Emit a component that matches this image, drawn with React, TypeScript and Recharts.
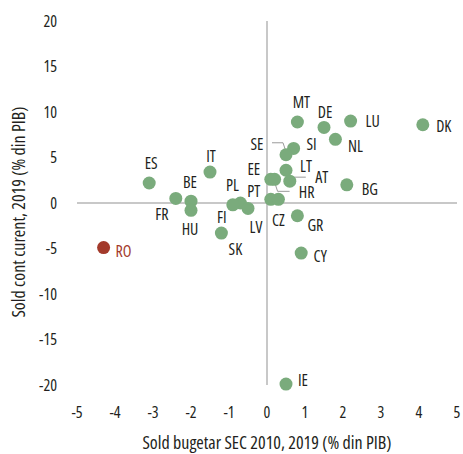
import React from "react";
import {
    ScatterChart, Scatter, XAxis, YAxis, ZAxis, ReferenceLine,
} from "recharts";

// country codes, budget balance (x) and current account (y), % of GDP, 2019
const countries = ["DK", "LU", "MT", "DE", "NL", "SI", "SE", "LT", "AT", "EE", "HR", "BG", "PT", "CZ", "GR", "CY", "IE", "ES", "IT", "BE", "FR", "HU", "PL", "FI", "LV", "SK", "RO"];
const budget = [4.1, 2.2, 0.8, 1.5, 1.8, 0.7, 0.5, 0.5, 0.6, 0.1, 0.2, 2.1, 0.1, 0.3, 0.8, 0.9, 0.5, -3.1, -1.5, -2.0, -2.4, -2.0, -0.7, -0.9, -0.5, -1.2, -4.3];
const currentAccount = [8.6, 9.0, 8.9, 8.3, 7.0, 6.0, 5.3, 3.6, 2.4, 2.6, 2.6, 2.0, 0.4, 0.4, -1.4, -5.5, -19.9, 2.2, 3.4, 0.2, 0.5, -0.8, 0.0, -0.2, -0.6, -3.3, -4.9];
const xTicks = [-5, -4, -3, -2, -1, 0, 1, 2, 3, 4, 5];
const yTicks = [-20, -15, -10, -5, 0, 5, 10, 15, 20];

const highlight = "RO";

// label placement (offset of the label centre from the dot), plus a few leader lines
const labelPos: Record<string, [number, number]> = {
    DK: [21, 1], LU: [22, 0], MT: [4, -20], DE: [1, -15], NL: [20, 7], SI: [18, -4],
    SE: [-29, -11], LT: [20, -4], AT: [32, -4], EE: [-17, -10], HR: [32, 13], BG: [23, 4],
    PT: [-17, -8], CZ: [0, 21], GR: [18, 9], CY: [19, 3], IE: [17, -4], ES: [2, -20],
    IT: [1, -16], BE: [-1, -19], FR: [-14, 16], HU: [-1, 19], PL: [-8, -18], FI: [-11, 12],
    LV: [8, 19], SK: [14, 16], RO: [20, 3],
};
const leaders: Record<string, number[][]> = {
    SE: [[-14, -12], [-3, -12], [0, -3]],
    AT: [[2, -2], [5, -4], [16, -4]],
    HR: [[0, 3], [3, 12], [15, 12]],
};

const data = countries.map((c, i) => ({ code: c, x: budget[i], y: currentAccount[i] }));

const FONT = "'Open Sans', 'DejaVu Sans Condensed', sans-serif";
const NARROW = { fontStretch: "condensed" } as React.CSSProperties;
const TEXT = "#231f20";
const GREEN = "#7aab7c";
const RED = "#a33a2b";
const GRID = "#c8c8c8";

function Dot(props: any) {
    const { cx, cy, payload } = props;
    const isHi = payload.code === highlight;
    const [dx, dy] = labelPos[payload.code] || [15, 0];
    const lead = leaders[payload.code];
    return (
        <g>
            {lead && (
                <polyline
                    points={lead.map(([a, b]) => `${cx + a},${cy + b}`).join(" ")}
                    fill="none"
                    stroke="#9a9a9a"
                    strokeWidth={1}
                />
            )}
            <circle cx={cx} cy={cy} r={6.5} fill={isHi ? RED : GREEN} />
            <text
                x={cx + dx}
                y={cy + dy}
                textAnchor="middle"
                dominantBaseline="central"
                fontFamily={FONT}
                fontSize={16}
                style={NARROW}
                fill={isHi ? RED : TEXT}
            >
                {payload.code}
            </text>
        </g>
    );
}

export default function App() {
    const tick = { fill: TEXT, fontSize: 16, fontFamily: FONT, style: NARROW };
    return (
        <div style={{ position: "absolute", left: 0, top: 0, width: 463, height: 454, background: "#fff" }}>
            <ScatterChart width={463} height={454} margin={{ top: 21, right: 6, bottom: 0, left: 0 }}>
                <XAxis
                    type="number"
                    dataKey="x"
                    domain={[-5, 5]}
                    ticks={xTicks}
                    axisLine={false}
                    tickLine={false}
                    tickSize={0}
                    tickMargin={22}
                    height={69}
                    tick={tick}
                    label={{
                        content: ({ viewBox }: any) => (
                            <text
                                x={viewBox.x + viewBox.width / 2}
                                y={viewBox.y + 64}
                                textAnchor="middle"
                                fontFamily={FONT}
                                fontSize={18}
                                style={NARROW}
                                fill={TEXT}
                            >
                                Sold bugetar SEC 2010, 2019 (% din PIB)
                            </text>
                        ),
                    }}
                />
                <YAxis
                    type="number"
                    dataKey="y"
                    domain={[-20, 20]}
                    ticks={yTicks}
                    axisLine={false}
                    tickLine={false}
                    tickSize={0}
                    tickMargin={20}
                    width={77}
                    tick={tick}
                    label={{
                        content: ({ viewBox }: any) => {
                            const x = viewBox.x + 25;
                            const y = viewBox.y + viewBox.height / 2 + 9;
                            return (
                                <text
                                    x={x}
                                    y={y}
                                    transform={`rotate(-90 ${x} ${y})`}
                                    textAnchor="middle"
                                    fontFamily={FONT}
                                    fontSize={18}
                                    style={NARROW}
                                    fill={TEXT}
                                >
                                    Sold cont curent, 2019 (% din PIB)
                                </text>
                            );
                        },
                    }}
                />
                <ZAxis range={[133, 133]} />
                <ReferenceLine x={0} stroke={GRID} strokeWidth={2} />
                <ReferenceLine y={0} stroke={GRID} strokeWidth={2} />
                <Scatter data={data} shape={<Dot />} isAnimationActive={false} />
            </ScatterChart>
        </div>
    );
}
